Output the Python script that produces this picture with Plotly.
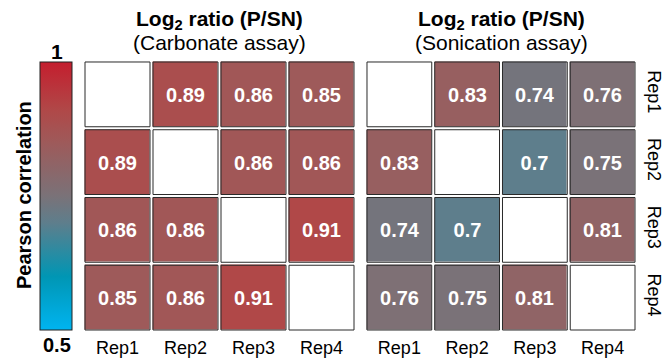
import plotly.graph_objects as go

reps = ["Rep1", "Rep2", "Rep3", "Rep4"]
carbonate = [
    [None, 0.89, 0.86, 0.85],
    [0.89, None, 0.86, 0.86],
    [0.86, 0.86, None, 0.91],
    [0.85, 0.86, 0.91, None],
]
sonication = [
    [None, 0.83, 0.74, 0.76],
    [0.83, None, 0.70, 0.75],
    [0.74, 0.70, None, 0.81],
    [0.76, 0.75, 0.81, None],
]
zmin, zmax = 0.5, 1.0
title_main = "Log<sub>2</sub> ratio (P/SN)"
subtitles = ["(Carbonate assay)", "(Sonication assay)"]
cbar_title = "Pearson correlation"

colorscale = [
    [0.0, "#00B4F0"],
    [0.2, "#0096B4"],
    [0.4, "#5E7E8C"],
    [0.5, "#7A7278"],
    [0.7, "#9E5A5A"],
    [0.82, "#B04848"],
    [1.0, "#C41E2E"],
]
FONT = "Liberation Sans, Arial, sans-serif"

def fmt(v):
    if v is None:
        return ""
    return f"{v:.2f}".rstrip("0")

fig = go.Figure()

W, H = 672, 362
x_domains = [[83.5 / W, 355.5 / W], [365.5 / W, 636.5 / W]]
y_domain = [1 - 331.5 / H, 1 - 60.5 / H]

def px_y(y):
    return 1 - y / H

for k, mat in enumerate([carbonate, sonication]):
    xa = "x" if k == 0 else "x2"
    ya = "y" if k == 0 else "y2"
    fig.add_trace(go.Heatmap(
        z=mat, x=reps, y=reps,
        text=[[fmt(v) for v in row] for row in mat],
        texttemplate="%{text}",
        textfont=dict(family=FONT, size=20, color="white", weight="bold"),
        colorscale=colorscale, zmin=zmin, zmax=zmax,
        xgap=3, ygap=3,
        showscale=(k == 0),
        colorbar=dict(
            x=40 / W, xanchor="left", xpad=0,
            y=px_y(62), yanchor="top", ypad=0,
            len=268 / H, lenmode="fraction",
            thickness=32, outlinewidth=1, outlinecolor="#222",
            showticklabels=False, ticks="",
        ),
        xaxis=xa, yaxis=ya, hoverongaps=False,
    ))
    for i in range(4):
        for j in range(4):
            fig.add_shape(type="rect", xref=xa, yref=ya,
                          x0=j - 0.478, x1=j + 0.478, y0=i - 0.478, y1=i + 0.478,
                          line=dict(color="#2a2a2a", width=1), fillcolor="rgba(0,0,0,0)")
    cx = (x_domains[k][0] + x_domains[k][1]) / 2
    fig.add_annotation(text="<b>" + title_main + "</b>", xref="paper", yref="paper",
                       x=cx, y=px_y(20), xanchor="center", yanchor="middle", showarrow=False,
                       font=dict(family=FONT, size=21, color="black"))
    fig.add_annotation(text=subtitles[k], xref="paper", yref="paper",
                       x=cx, y=px_y(43), xanchor="center", yanchor="middle", showarrow=False,
                       font=dict(family=FONT, size=21, color="black"))

fig.add_annotation(text="<b>1</b>", xref="paper", yref="paper", x=57 / W, y=px_y(51),
                   xanchor="center", yanchor="middle",
                   showarrow=False, font=dict(family=FONT, size=21, color="black"))
fig.add_annotation(text="<b>0.5</b>", xref="paper", yref="paper", x=57 / W, y=px_y(345),
                   xanchor="center", yanchor="middle",
                   showarrow=False, font=dict(family=FONT, size=20, color="black"))
fig.add_annotation(text="<b>" + cbar_title + "</b>", xref="paper", yref="paper",
                   x=24 / W, y=px_y(195), xanchor="center", yanchor="middle",
                   textangle=-90, showarrow=False,
                   font=dict(family=FONT, size=20, color="black"))

axis_common = dict(showgrid=False, zeroline=False, showline=False, automargin=False,
                   tickfont=dict(family=FONT, size=18, color="black"), ticks="")
fig.update_layout(
    width=W, height=H, margin=dict(l=0, r=0, t=0, b=0, autoexpand=False),
    paper_bgcolor="white", plot_bgcolor="white",
    xaxis=dict(domain=x_domains[0], anchor="y", ticklabelstandoff=3, **axis_common),
    xaxis2=dict(domain=x_domains[1], anchor="y2", ticklabelstandoff=3, **axis_common),
    yaxis=dict(domain=y_domain, anchor="x", autorange="reversed", automargin=False,
               showticklabels=False, showgrid=False, zeroline=False),
    yaxis2=dict(domain=y_domain, anchor="x2", autorange="reversed", side="right",
                tickangle=90, ticklabelstandoff=7, **axis_common),
    showlegend=False,
)

fig.write_html("out.html", config={"displayModeBar": False},
               post_script="document.body.style.margin='0px';")
